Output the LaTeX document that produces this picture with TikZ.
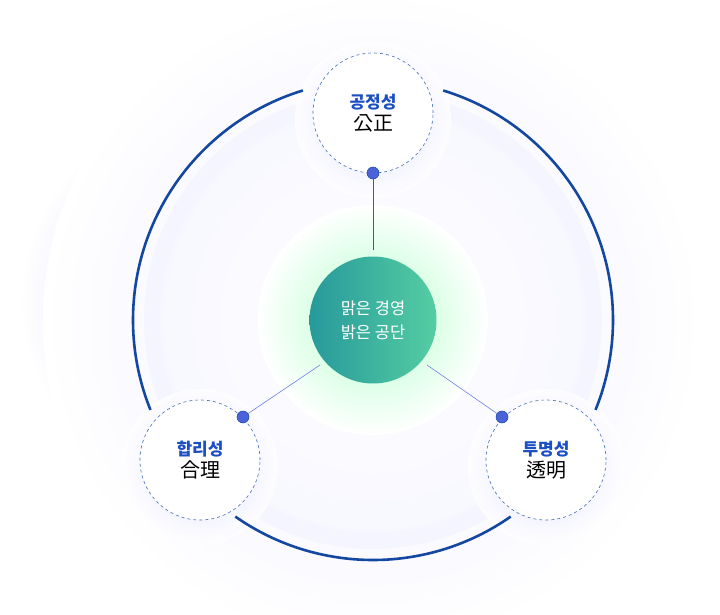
\documentclass[tikz,border=0pt]{standalone}
\usepackage{fontspec}
\setmainfont{Noto Sans CJK KR}
\definecolor{arcblue}{HTML}{1448A0}
\definecolor{lblue}{HTML}{1D4FC4}
\definecolor{dotblue}{HTML}{4A63D8}
\definecolor{tealA}{HTML}{27999B}
\definecolor{tealB}{HTML}{55CDA2}
\tikzset{
 sat/.style={circle,minimum size=120pt,fill=white,draw=arcblue!80,dashed,line width=0.6pt,align=center,inner sep=0pt},
 dot/.style={circle,fill=dotblue,draw=arcblue,line width=0.5pt,minimum size=12pt,inner sep=0pt},
 spoke/.style={draw=gray!70!black,line width=0.5pt},
 spokeb/.style={draw=dotblue!80,line width=0.6pt},
 bigarc/.style={draw=arcblue,line width=2.6pt},
 halo/.style={inner color=blue!14!white,outer color=white,opacity=0.8}
}
\begin{document}
\begin{tikzpicture}[x=1pt,y=-1pt]
\useasboundingbox (0,0) rectangle (720,615);
\fill[white] (0,0) rectangle (720,615);
\shade[inner color=blue!20!white,outer color=white] (210,300) circle (190);
\shade[inner color=blue!7!white,outer color=white] (373,320) circle (330);
\fill[blue!4!white] (373,320) circle (229);
\shade[inner color=white,outer color=blue!3!white] (373,320) circle (213);
\shade[inner color=cyan!30!green!30!white,outer color=white] (373,320) circle (115);
% halos
\shade[halo] (373,120) circle (78);
\shade[halo] (200,467) circle (78);
\shade[halo] (546,467) circle (78);
% arcs
\draw[bigarc] ([shift={(-73:240)}]373,320) arc[start angle=-73,end angle=22,radius=240];
\draw[bigarc] ([shift={(-202:240)}]373,320) arc[start angle=-202,end angle=-107,radius=240];
\draw[bigarc] ([shift={(-305:240)}]373,320) arc[start angle=-305,end angle=-235,radius=240];
% center
\node[circle,minimum size=127pt,inner sep=0pt,left color=tealA,right color=tealB,text=white,align=center,font=\fontsize{16.5}{24}\selectfont] (c) at (373,320) {맑은 경영\\밝은 공단};
% satellites
\node[sat] (t) at (373,113) {\textcolor{lblue}{\fontsize{17}{21}\selectfont\bfseries 공정성}\\[3pt]{\fontsize{20}{24}\selectfont 公正}};
\node[sat] (l) at (200,460) {\textcolor{lblue}{\fontsize{17}{21}\selectfont\bfseries 합리성}\\[3pt]{\fontsize{20}{24}\selectfont 合理}};
\node[sat] (r) at (546,460) {\textcolor{lblue}{\fontsize{17}{21}\selectfont\bfseries 투명성}\\[3pt]{\fontsize{20}{24}\selectfont 透明}};
\node[dot] (dt) at (373,173) {};
\node[dot] (dl) at (243,417) {};
\node[dot] (dr) at (502,417) {};
\coordinate (et) at (373,250);
\coordinate (el) at (320,365);
\coordinate (er) at (427,365);
\draw[spoke] (dt) -- (et);
\draw[spokeb] (dl) -- (el);
\draw[spokeb] (dr) -- (er);
\end{tikzpicture}
\end{document}
